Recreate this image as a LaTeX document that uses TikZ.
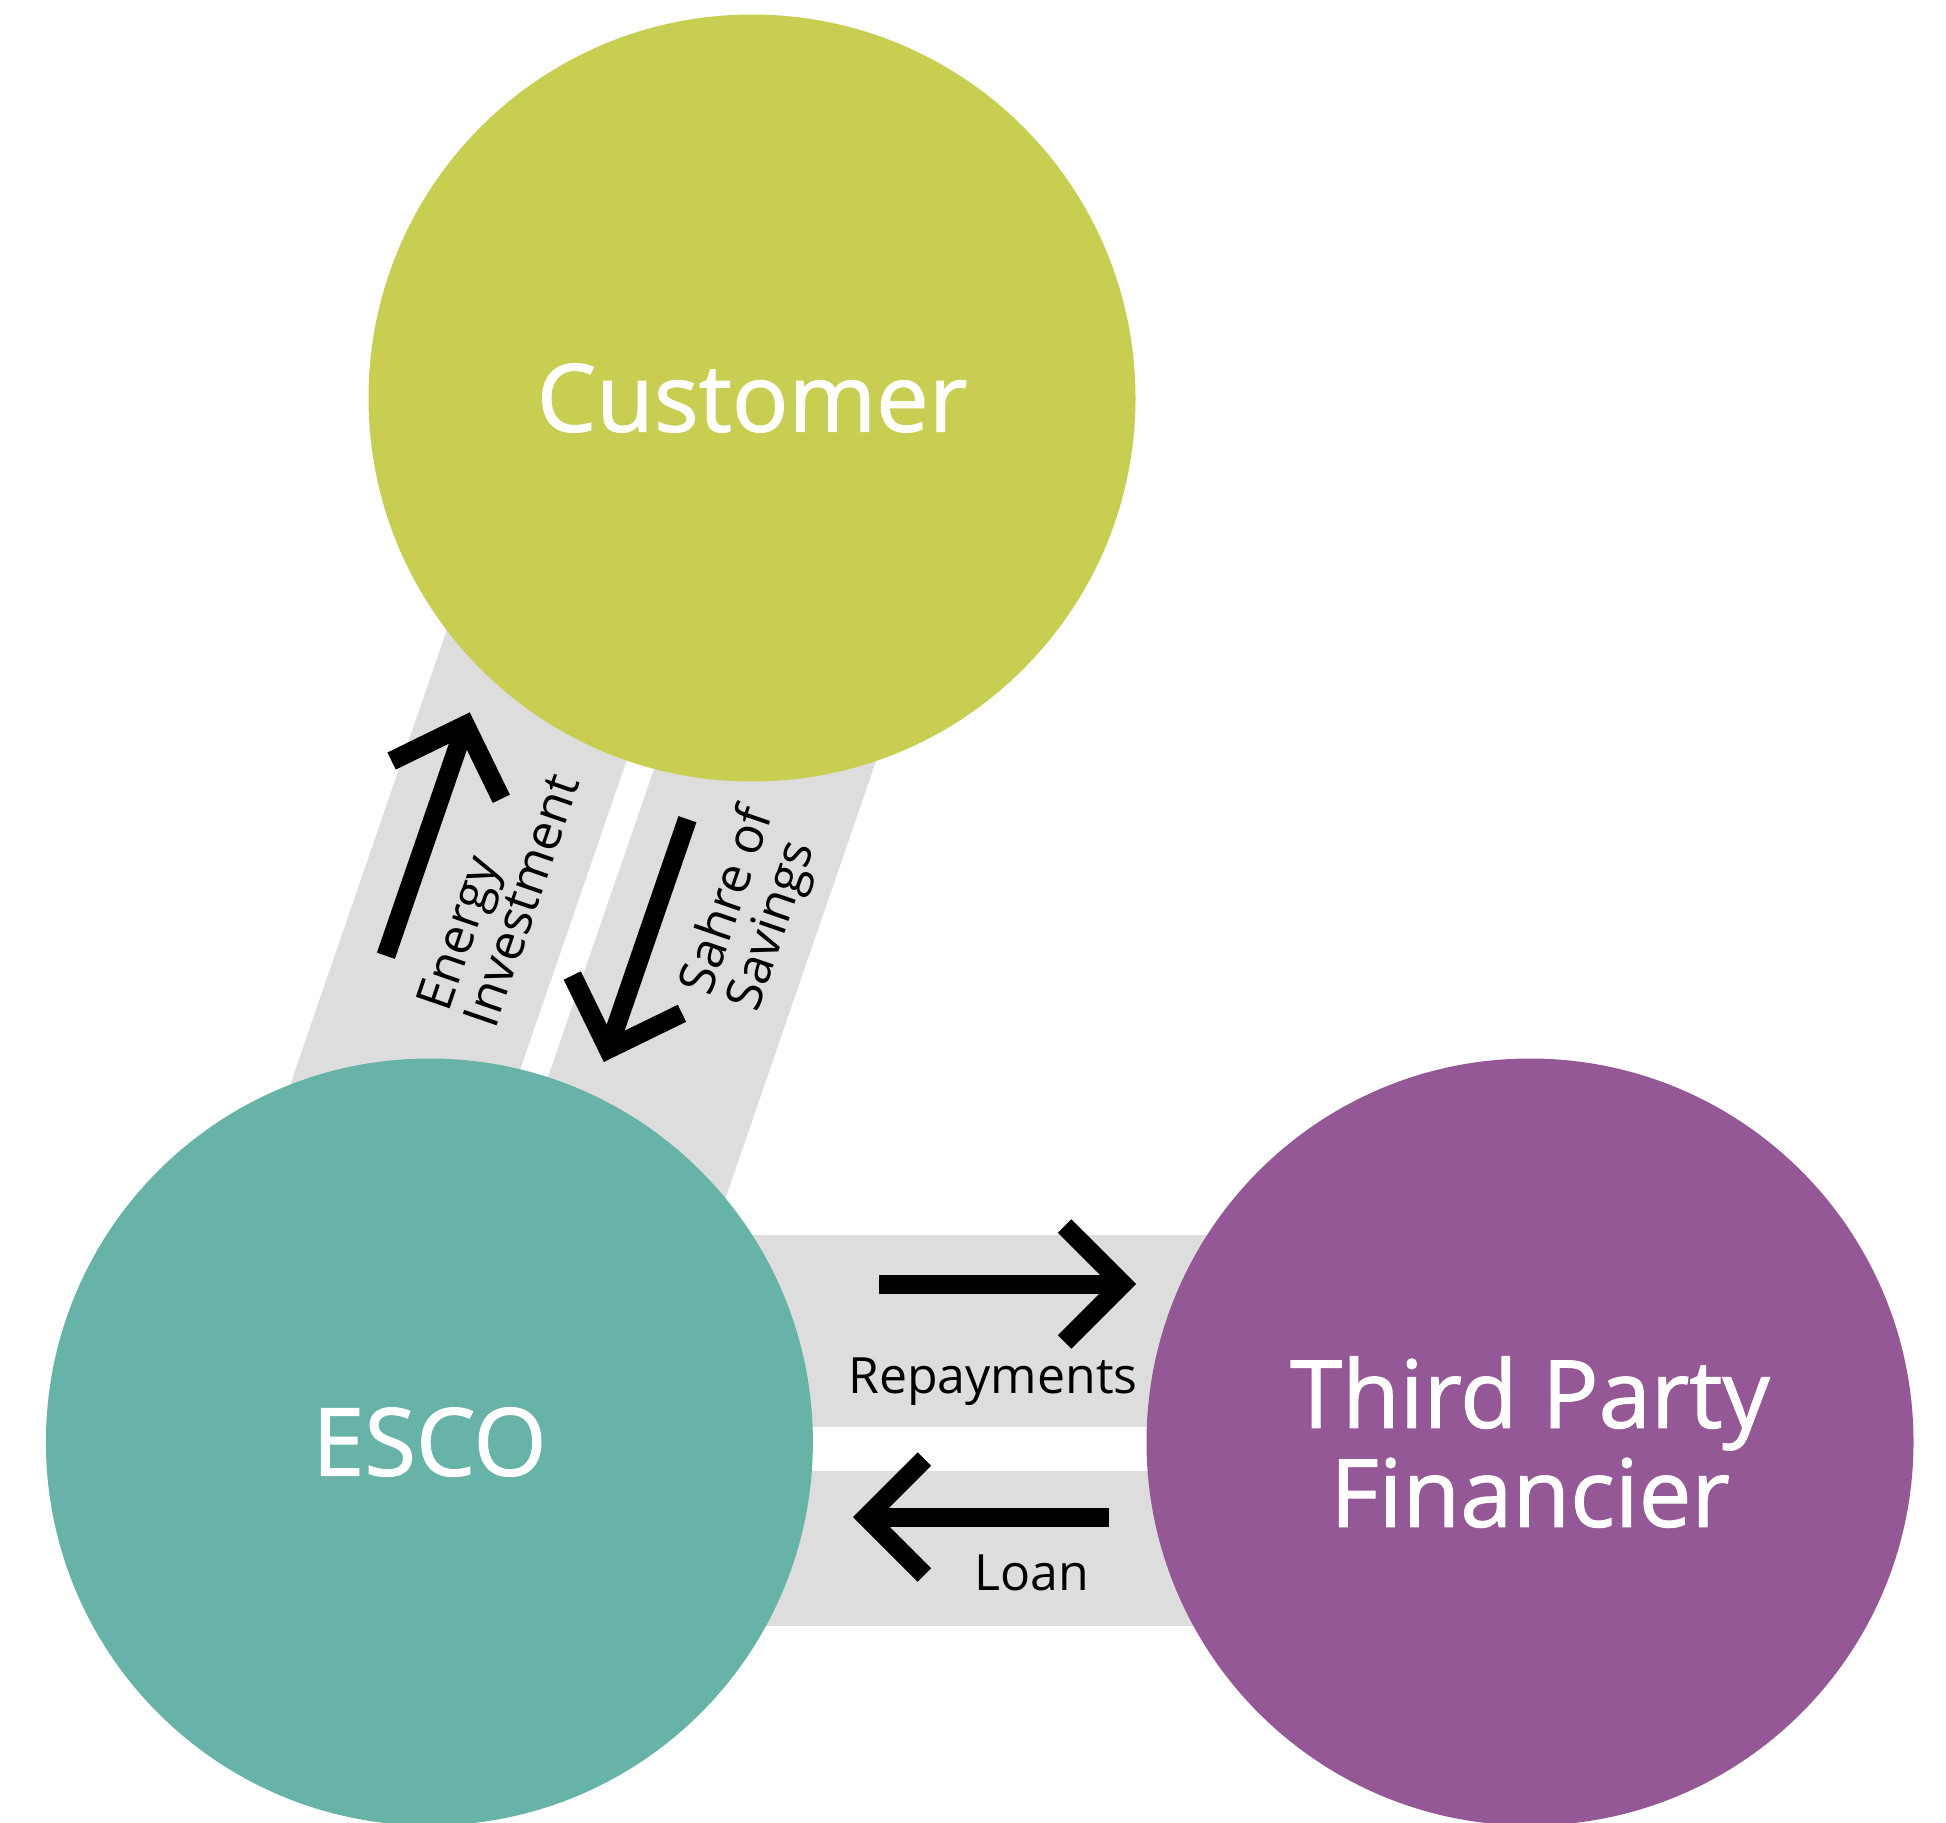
\documentclass[tikz,border=0pt]{standalone}
\usepackage{fontspec}
\setmainfont{Open Sans}
\newfontfamily\partyfont{Open Sans}[FakeBold=1.2]
\definecolor{custC}{HTML}{C8CE52}
\definecolor{escoC}{HTML}{68B3A7}
\definecolor{tpfC}{HTML}{955897}
\definecolor{bandC}{HTML}{DDDDDD}
\tikzset{
  band/.style={fill=bandC, draw=none},
  party/.style={circle, draw=none, minimum size=383.5pt, inner sep=0pt, text=white,
    font=\partyfont\fontsize{47}{49.5}\selectfont, align=center},
  flowline/.style={draw=black, line width=9.5pt, line cap=butt, line join=miter, miter limit=10},
  flowlabel/.style={inner sep=0pt, text=black, font=\fontsize{25}{25}\selectfont},
}
\begin{document}
\begin{tikzpicture}[x=0.5pt,y=-0.5pt]
\path[use as bounding box] (0,0) rectangle (1946,1822);
\clip (0,0) rectangle (1946,1822);
% horizontal bands
\fill[band] (429,1235) rectangle (1530,1427);
\fill[band] (429,1471) rectangle (1530,1626);
% diagonal bands (o,s) frame
\begin{scope}[x={(0.4728pt,-0.1628pt)}, y={(0.1628pt,0.4728pt)}]
  \fill[band] (627.5,-1223) -- (840,-1223) -- (840,-131) -- (627.5,-131) -- cycle;
  \fill[band] (868.7,-1223) -- (1076,-1223) -- (1076,-131) -- (868.7,-131) -- cycle;
\end{scope}
% parties
\node[party, fill=custC] (cust) at (752,398) {Customer};
\node[party, fill=escoC] (esco) at (429.4,1442) {ESCO};
\node[party, fill=tpfC] (tpf) at (1530,1442) {Third Party\\Financier};
% horizontal flows
\coordinate (rpT) at (879,1284);
\coordinate (rpH) at (1122.6,1284);
\coordinate (rpA) at (1064.6,1226);
\coordinate (rpB) at (1064.6,1342);
\draw[flowline] (rpT) -- (rpH);
\draw[flowline] (rpA) -- (rpH) -- (rpB);
\node[flowlabel, anchor=base] (rep) at (993,1393) {Repayments};
\coordinate (lnT) at (1109,1517);
\coordinate (lnH) at (866.4,1517);
\coordinate (lnA) at (924.4,1459);
\coordinate (lnB) at (924.4,1575);
\draw[flowline] (lnT) -- (lnH);
\draw[flowline] (lnA) -- (lnH) -- (lnB);
\node[flowlabel, anchor=base] (loan) at (1031.5,1590) {Loan};
% diagonal flows
\begin{scope}[x={(0.4728pt,-0.1628pt)}, y={(0.1628pt,0.4728pt)}]
  \coordinate (eiT) at (676,-778);
  \coordinate (eiH) at (676,-534);
  \coordinate (eiA) at (618,-592);
  \coordinate (eiB) at (734,-592);
  \draw[flowline] (eiT) -- (eiH);
  \draw[flowline] (eiA) -- (eiH) -- (eiB);
  \node[flowlabel, rotate=71, anchor=west, align=left] (eitxt) at (761,-813) {Energy\\Investment};
  \coordinate (ssT) at (916.6,-550.7);
  \coordinate (ssH) at (916.6,-794);
  \coordinate (ssA) at (858.6,-736);
  \coordinate (ssB) at (974.6,-736);
  \draw[flowline] (ssT) -- (ssH);
  \draw[flowline] (ssA) -- (ssH) -- (ssB);
  \node[flowlabel, rotate=71, anchor=west, align=left] (sstxt) at (1008,-712) {Sahre of\\Savings};
\end{scope}
\end{tikzpicture}
\end{document}
